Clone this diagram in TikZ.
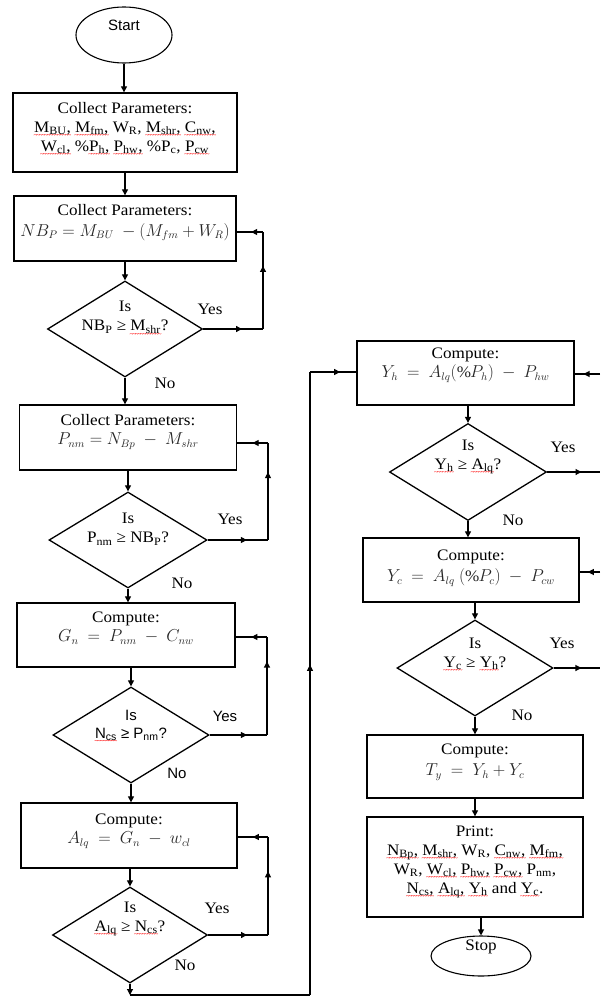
\documentclass[tikz,border=0pt]{standalone}
\usepackage{fontspec}
\setmainfont{Liberation Serif}[FakeStretch=1.07]
\newfontfamily\arialf{Liberation Sans}
\usetikzlibrary{shapes.geometric,arrows.meta,decorations.markings}
\newcommand\rw[1]{\leavevmode\setbox0\hbox{#1}\rlap{\raisebox{-5.5pt}[0pt][0pt]{\textcolor{red}{\hbox to \wd0{\xleaders\hbox{\fontsize{7}{7}\selectfont\kern-0.8pt\char"7E\kern-0.8pt}\hfil}}}}\box0{}}
\begin{document}
\begin{tikzpicture}[x=1pt,y=-1pt,
  line width=1.1pt,
  font=\fontsize{16}{19}\selectfont,
  blk/.style={draw, rectangle, line width=1.3pt, inner sep=0pt},
  dia/.style={draw, diamond, line width=1.3pt, inner sep=0pt},
  term/.style={draw, ellipse, line width=1.1pt, inner sep=0pt},
  txt/.style={align=center, inner sep=0pt},
  lbl/.style={inner sep=0pt},
  sans/.style={font=\arialf\fontsize{15}{18}\selectfont},
  tip/.style={-{Triangle[length=6pt,width=6pt]}},
  midarr/.style={postaction={decorate}, decoration={markings, mark=at position #1 with {\arrow{Triangle[length=6pt,width=6pt]}}}},
  midarr/.default=0.5]
\useasboundingbox (0,0) rectangle (600,1000);

% ---------- left column ----------
\node[term, minimum width=96pt, minimum height=56pt] (start) at (124,35) {};
\node[lbl, sans] (starttxt) at (124,25) {Start};

\node[blk, minimum width=224pt, minimum height=79pt] (b1) at (125,132.5) {};
\node[txt] (t1) at (125,128) {Collect Parameters:\\
\rw{M\textsubscript{BU},} \rw{M\textsubscript{fm},} W\textsubscript{R}, \rw{M\textsubscript{shr},} \rw{C\textsubscript{nw},}\\
\rw{W\textsubscript{cl},} \%\rw{P\textsubscript{h},} \rw{P\textsubscript{hw},} \%P\textsubscript{c}, \rw{P\textsubscript{cw}}};

\node[blk, minimum width=222pt, minimum height=65pt] (b2) at (125,228.5) {};
\node[txt] (t2) at (125,222.5) {Collect Parameters:\\[2pt]
\textcolor{black!85}{$NB_P = M_{BU}\ -\bigl(M_{fm} + W_R\bigr)$}};

\node[dia, minimum width=155pt, minimum height=96pt] (d1) at (125,329) {};
\node[txt] (dt1) at (125,317.5) {Is\\NB\textsubscript{P} ≥ \rw{M\textsubscript{shr}}?};

\node[blk, minimum width=217pt, minimum height=65pt] (b3) at (128,437.5) {};
\node[txt] (t3) at (128,432) {Collect Parameters:\\
\textcolor{black!85}{$P_{nm} = N_{Bp}\ -\ M_{shr}$}};

\node[dia, minimum width=158pt, minimum height=96pt] (d2) at (128,540) {};
\node[txt] (dt2) at (128,529) {Is\\P\textsubscript{nm} ≥ NB\textsubscript{P}?};

\node[blk, minimum width=218pt, minimum height=64pt] (b4) at (126,635) {};
\node[txt] (t4) at (126,628) {Compute:\\
\textcolor{black!85}{$G_n\ =\ P_{nm}\ -\ C_{nw}$}};

\node[dia, minimum width=156pt, minimum height=96pt] (d3) at (131,735) {};
\node[txt, sans] (dt3) at (131,725) {Is\\\rw{N\textsubscript{cs}} ≥ P\textsubscript{nm}?};

\node[blk, minimum width=216pt, minimum height=65pt] (b5) at (129,835.5) {};
\node[txt] (t5) at (129,831) {Compute:\\
\textcolor{black!85}{$A_{lq}\ =\ G_n\ -\ w_{cl}$}};

\node[dia, minimum width=155pt, minimum height=96pt] (d4) at (130,935) {};
\node[txt] (dt4) at (130,919) {Is\\\rw{A\textsubscript{lq}} ≥ \rw{N\textsubscript{cs}}?};

% labels left
\node[lbl] (y1) at (210,309) {Yes};
\node[lbl] (n1) at (165,383) {No};
\node[lbl] (y2) at (230,519) {Yes};
\node[lbl] (n2) at (182,583) {No};
\node[lbl, sans] (y3) at (225,716) {Yes};
\node[lbl, sans] (n3) at (177,773) {No};
\node[lbl] (y4) at (217,908) {Yes};
\node[lbl] (n4) at (185,965) {No};

% ---------- right column ----------
\node[blk, minimum width=217pt, minimum height=64pt] (b6) at (465.5,373) {};
\node[txt] (t6) at (465.5,365) {Compute:\\
\textcolor{black!85}{$Y_h\ =\ A_{lq}(\%P_h)\ -\ P_{hw}$}};

\node[dia, minimum width=157pt, minimum height=97pt] (d5) at (468,472) {};
\node[txt] (dt5) at (468,457) {Is\\\rw{Y\textsubscript{h}} ≥ \rw{A\textsubscript{lq}}?};

\node[blk, minimum width=216pt, minimum height=64pt] (b7) at (471,570) {};
\node[txt] (t7) at (471,568) {Compute:\\[2pt]
\textcolor{black!85}{$Y_c\ =\ A_{lq}\ (\%P_c)\ -\ P_{cw}$}};

\node[dia, minimum width=156pt, minimum height=96pt] (d6) at (475,668) {};
\node[txt] (dt6) at (475,654) {Is\\\rw{Y\textsubscript{c}} ≥ \rw{Y\textsubscript{h}}?};

\node[blk, minimum width=216pt, minimum height=63pt] (b8) at (475,766.5) {};
\node[txt] (t8) at (475,762) {Compute:\\[2pt]
\textcolor{black!85}{$T_y\ =\ Y_h + Y_c$}};

\node[blk, minimum width=216pt, minimum height=100pt] (b9) at (475,867) {};
\node[txt] (t9) at (475,862) {Print:\\
\rw{N\textsubscript{Bp},} \rw{M\textsubscript{shr},} W\textsubscript{R}, \rw{C\textsubscript{nw},} \rw{M\textsubscript{fm},}\\
W\textsubscript{R}, \rw{W\textsubscript{cl},} \rw{P\textsubscript{hw},} \rw{P\textsubscript{cw},} P\textsubscript{nm},\\
\rw{N\textsubscript{cs},} \rw{A\textsubscript{lq},} \rw{Y\textsubscript{h}} and \rw{Y\textsubscript{c}}.};

\node[term, minimum width=100pt, minimum height=40pt] (stop) at (481,956) {};
\node[lbl] (stoptxt) at (481,947) {Stop};

\node[lbl] (y5) at (563,447) {Yes};
\node[lbl] (n5) at (513,520) {No};
\node[lbl] (y6) at (562,643) {Yes};
\node[lbl] (n6) at (522,715) {No};

% ---------- coordinates ----------
\coordinate (c1a) at (263,329);
\coordinate (c1b) at (263,232);
\coordinate (c2a) at (268,540);
\coordinate (c2b) at (268,443);
\coordinate (c3a) at (267,735);
\coordinate (c3b) at (267,637);
\coordinate (c4a) at (268,935);
\coordinate (c4b) at (268,837);
\coordinate (c5a) at (130,995);
\coordinate (c5b) at (310,995);
\coordinate (c5c) at (310,372);
\coordinate (e1) at (600,374);
\coordinate (e2) at (600,472);
\coordinate (e3) at (600,572);
\coordinate (e4) at (600,668);

% ---------- main flow ----------
\draw[tip] (start.south) -- (start.south |- b1.north);
\draw[tip] (b1.south) -- (b2.north);
\draw[tip] (b2.south) -- (d1.north);
\draw[tip] (d1.south) -- (d1.south |- b3.north);
\draw[tip] (b3.south -| d2.north) -- (d2.north);
\draw[tip] (d2.south) -- (d2.south |- b4.north);
\draw[tip] (b4.south -| d3.north) -- (d3.north);
\draw[tip] (d3.south) -- (d3.south |- b5.north);
\draw[tip] (b5.south -| d4.north) -- (d4.north);

% loops
\draw[midarr=0.65] (d1.east) -- (c1a);
\draw[midarr=0.65] (c1a) -- (c1b);
\draw[midarr=0.45] (c1b) -- (b2.east |- c1b);
\draw[midarr=0.65] (d2.east) -- (c2a);
\draw[midarr=0.7] (c2a) -- (c2b);
\draw[midarr=0.5] (c2b) -- (b3.east |- c2b);
\draw[midarr=0.65] (d3.east) -- (c3a);
\draw[midarr=0.75] (c3a) -- (c3b);
\draw[midarr=0.5] (c3b) -- (b4.east |- c3b);
\draw[midarr=0.65] (d4.east) -- (c4a);
\draw[midarr=0.65] (c4a) -- (c4b);
\draw[midarr=0.5] (c4b) -- (b5.east |- c4b);

% bottom connector to right column
\draw[tip] (d4.south) -- (c5a);
\draw (c5a) -- (c5b);
\draw[midarr=0.53] (c5b) -- (c5c);
\draw[midarr=0.65] (c5c) -- (b6.west |- c5c);

% right column
\draw[tip] (b6.south -| d5.north) -- (d5.north);
\draw[tip] (d5.south) -- (d5.south |- b7.north);
\draw[tip] (b7.south -| d6.north) -- (d6.north);
\draw[tip] (d6.south) -- (d6.south |- b8.north);
\draw[tip] (b8.south) -- (b9.north);
\draw[tip] (b9.south -| stop.north) -- (stop.north);

\draw[midarr=0.65] (e1) -- (b6.east |- e1);
\draw[midarr=0.65] (d5.east) -- (e2);
\draw[midarr=0.6] (e3) -- (b7.east |- e3);
\draw[midarr=0.6] (d6.east) -- (e4);
\end{tikzpicture}
\end{document}
